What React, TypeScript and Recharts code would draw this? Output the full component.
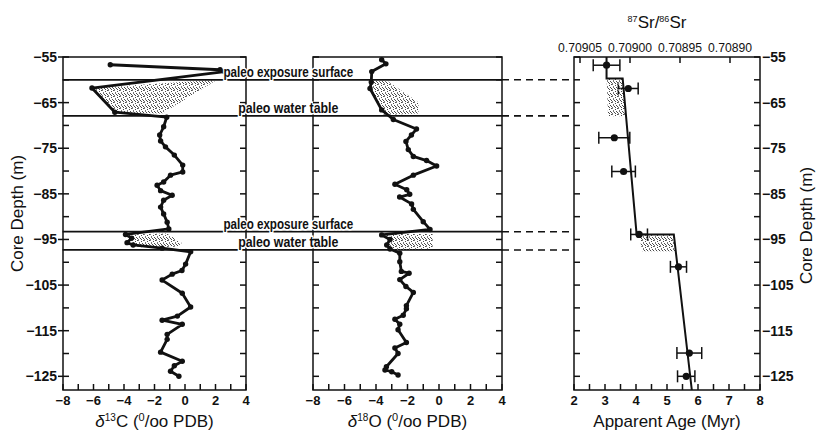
import React from "react";
import {
  ComposedChart,
  Scatter,
  XAxis,
  YAxis,
  ReferenceArea,
  ReferenceLine,
  ErrorBar,
} from "recharts";

const WIDTH = 816;
const HEIGHT = 435;
const FONT = "'Liberation Sans', Arial, Helvetica, sans-serif";
const INK = "#111";

// axes
const depthDomain: [number, number] = [-128, -55];
const depthTicks = [-55, -60, -65, -70, -75, -80, -85, -90, -95, -100, -105, -110, -115, -120, -125];
const deltaTicks = [-8, -7, -6, -5, -4, -3, -2, -1, 0, 1, 2, 3, 4];
const ageTicks = [2, 2.5, 3, 3.5, 4, 4.5, 5, 5.5, 6, 6.5, 7, 7.5, 8];
const srTicks = [0.70905, 0.709, 0.70895, 0.7089];
const srDomain: [number, number] = [0.70887, 0.709056];

// paleo horizons (depth, m)
const horizons = [
  { depth: -60, label: "paleo exposure surface" },
  { depth: -67.9, label: "paleo water table" },
  { depth: -93.3, label: "paleo exposure surface" },
  { depth: -97.3, label: "paleo water table" },
];
// horizon lines, in δ18O units of the middle panel
const horizonStart = -23.9;
const horizonEnd = 4;
const horizonDashEnd = 8.57;

// δ13C profile
const carbon13 = [
  { x: -4.9, depth: -56.7 }, { x: 2.3, depth: -57.8 }, { x: 2.6, depth: -58.2 },
  { x: -6.1, depth: -61.8 }, { x: -4.6, depth: -67.1 }, { x: -1.2, depth: -68.2 },
  { x: -1.4, depth: -70.3 }, { x: -1.66, depth: -72.1 }, { x: -1.6, depth: -73.4 },
  { x: -1.28, depth: -74.7 }, { x: -0.7, depth: -76.5 }, { x: -0.15, depth: -78.7 },
  { x: -0.15, depth: -80.2 }, { x: -0.95, depth: -80.9 }, { x: -1.4, depth: -82.4 },
  { x: -1.83, depth: -83.1 }, { x: -1.6, depth: -84.3 }, { x: -0.84, depth: -85.3 },
  { x: -1.4, depth: -86.4 }, { x: -1.6, depth: -87.9 }, { x: -1.4, depth: -89.4 },
  { x: -1.17, depth: -91.2 }, { x: -1.06, depth: -92.7 }, { x: -3.9, depth: -93.9 },
  { x: -3.5, depth: -94.7 }, { x: -3.8, depth: -95.7 }, { x: -3.4, depth: -96.2 },
  { x: -1.5, depth: -96.9 }, { x: 0.37, depth: -97.7 }, { x: 0.04, depth: -100.4 },
  { x: -0.2, depth: -101.8 }, { x: -0.84, depth: -102.6 }, { x: -1.5, depth: -103.9 },
  { x: -0.18, depth: -106.8 }, { x: 0.37, depth: -109.8 }, { x: -0.5, depth: -111.8 },
  { x: -1.5, depth: -112.7 }, { x: -0.18, depth: -113.6 }, { x: -1.17, depth: -115.8 },
  { x: -1.17, depth: -116.9 }, { x: -1.6, depth: -119.7 }, { x: -0.18, depth: -121.7 },
  { x: -0.7, depth: -122.7 }, { x: -0.95, depth: -123.9 }, { x: -0.4, depth: -125 },
];
const carbonUpperShade = [
  { x: -6.1, depth: -61.8 }, { x: 2.1, depth: -60 }, { x: -1.5, depth: -67.4 }, { x: -4.6, depth: -67.1 },
];
const carbonLowerShade = [
  { x: -3.9, depth: -93.9 }, { x: -1.2, depth: -93.7 }, { x: -0.2, depth: -95.8 }, { x: -0.5, depth: -96.6 },
  { x: -3.0, depth: -96.7 }, { x: -3.4, depth: -96.2 }, { x: -3.8, depth: -95.7 }, { x: -3.5, depth: -94.7 },
];

// δ18O profile
const oxygen18 = [
  { x: -3.64, depth: -55.6 }, { x: -3.37, depth: -56.5 }, { x: -4.27, depth: -58.2 },
  { x: -4.3, depth: -60.5 }, { x: -4.38, depth: -61.9 }, { x: -3.64, depth: -66.6 },
  { x: -2.9, depth: -68.7 }, { x: -1.43, depth: -70.8 }, { x: -1.75, depth: -72.1 },
  { x: -2.1, depth: -73.5 }, { x: -1.95, depth: -75.3 }, { x: -1.63, depth: -76.8 },
  { x: -0.79, depth: -77.7 }, { x: -0.15, depth: -78.9 }, { x: -1.63, depth: -80.9 },
  { x: -2.8, depth: -82.9 }, { x: -2.05, depth: -84.1 }, { x: -1.86, depth: -85.1 },
  { x: -2.5, depth: -85.7 }, { x: -1.74, depth: -87.2 }, { x: -1.63, depth: -88.4 },
  { x: -1.0, depth: -91.1 }, { x: -0.57, depth: -92.8 }, { x: -3.64, depth: -94.0 },
  { x: -3.11, depth: -95.0 }, { x: -3.32, depth: -96.2 }, { x: -3.11, depth: -97.1 },
  { x: -2.49, depth: -98.0 }, { x: -2.49, depth: -99.9 }, { x: -2.39, depth: -102.0 },
  { x: -1.9, depth: -102.4 }, { x: -2.49, depth: -103.8 }, { x: -2.1, depth: -105.3 },
  { x: -1.63, depth: -106.6 }, { x: -2.07, depth: -109.5 }, { x: -2.07, depth: -110.2 },
  { x: -2.27, depth: -111.6 }, { x: -2.8, depth: -112.5 }, { x: -2.49, depth: -113.6 },
  { x: -2.6, depth: -114.8 }, { x: -2.07, depth: -117.6 }, { x: -2.8, depth: -118.8 },
  { x: -2.6, depth: -120.0 }, { x: -3.34, depth: -122.9 }, { x: -3.43, depth: -123.6 },
  { x: -3.0, depth: -124.0 }, { x: -2.6, depth: -124.7 },
];
const oxygenUpperShade = [
  { x: -4.3, depth: -60.2 }, { x: -3.3, depth: -60.2 }, { x: -1.3, depth: -65.0 },
  { x: -1.3, depth: -67.4 }, { x: -3.5, depth: -67.7 }, { x: -4.38, depth: -61.9 },
];
const oxygenLowerShade = [
  { x: -3.4, depth: -93.8 }, { x: -0.4, depth: -93.8 }, { x: -0.4, depth: -97.1 },
  { x: -2.9, depth: -97.3 }, { x: -3.3, depth: -96.2 }, { x: -3.1, depth: -95.0 },
];

// Sr apparent ages (Myr) with x error
const srAges = [
  { x: 3.05, depth: -56.8, err: 0.43 },
  { x: 3.75, depth: -61.9, err: 0.32 },
  { x: 3.3, depth: -72.7, err: 0.5 },
  { x: 3.6, depth: -80.1, err: 0.38 },
  { x: 4.1, depth: -93.9, err: 0.27 },
  { x: 5.37, depth: -101.0, err: 0.26 },
  { x: 5.72, depth: -119.9, err: 0.4 },
  { x: 5.62, depth: -125.0, err: 0.28 },
];
const srTrend = [
  { x: 3.05, depth: -55 }, { x: 3.05, depth: -59.7 }, { x: 3.57, depth: -59.7 },
  { x: 4.02, depth: -93.9 }, { x: 5.22, depth: -93.9 }, { x: 5.8, depth: -128 },
];
const srUpperShade = [
  { x: 3.05, depth: -59.7 }, { x: 3.57, depth: -59.7 }, { x: 3.68, depth: -68 }, { x: 3.1, depth: -68 },
];
const srLowerShade = [
  { x: 4.1, depth: -93.9 }, { x: 5.22, depth: -93.9 }, { x: 5.27, depth: -97.6 }, { x: 4.2, depth: -97.6 },
];
// anchors the top 87Sr/86Sr axis so it gets a scale
const srAnchors = srDomain.map((sr) => ({ sr, depth: -55 }));

// stipple dot cells inside a 6x6 pattern tile
const stippleDots = [
  [0, 0], [3, 1], [5, 0], [1, 2], [4, 3], [2, 4], [0, 5], [5, 4], [3, 5], [1, 3],
];

const fmt = (v: number) => String(v).replace("-", "\u2212");
const labelledDepth = (v: number) => Math.abs(v) % 10 === 5;

const dot = (r: number) => (p: any) => <circle cx={p.cx} cy={p.cy} r={r} fill={INK} />;
const noDot = () => <g />;
const shadeLine = { fill: "url(#stipple)", stroke: "none" };
const profileLine = { stroke: INK, strokeWidth: 2.8, strokeLinejoin: "round" as const };

function tickText(x: number, y: number, text: string, anchor: "start" | "middle" | "end", size = 14) {
  return (
    <text x={x} y={y} textAnchor={anchor} fontFamily={FONT} fontSize={size} fontWeight="bold" fill={INK}>
      {text}
    </text>
  );
}

const leftTick = (labels: boolean) => (p: any) => {
  const v = p.payload.value;
  const lab = labels && labelledDepth(v);
  return (
    <g>
      <line x1={p.x} x2={p.x + 6} y1={p.y} y2={p.y} stroke={INK} strokeWidth={1.5} />
      {lab && <line x1={p.x - 5} x2={p.x} y1={p.y} y2={p.y} stroke={INK} strokeWidth={1.5} />}
      {lab && tickText(p.x - 6, p.y + 5, fmt(v), "end")}
    </g>
  );
};

const rightTick = (labels: boolean) => (p: any) => {
  const v = p.payload.value;
  return (
    <g>
      <line x1={p.x - 6} x2={p.x} y1={p.y} y2={p.y} stroke={INK} strokeWidth={1.5} />
      {labels && labelledDepth(v) && tickText(p.x + 2, p.y + 5, fmt(v), "start")}
    </g>
  );
};

const bottomTick = (show: (v: number) => boolean) => (p: any) => {
  const v = p.payload.value;
  return (
    <g>
      <line x1={p.x} x2={p.x} y1={p.y - 6} y2={p.y} stroke={INK} strokeWidth={1.5} />
      {show(v) && tickText(p.x, p.y + 15, fmt(v), "middle", 13)}
    </g>
  );
};

const topSrTick = (p: any) => (
  <g>
    <line x1={p.x} x2={p.x} y1={p.y} y2={p.y + 6} stroke={INK} strokeWidth={1.5} />
    <text
      x={p.x}
      y={p.y - 5}
      textAnchor="middle"
      fontFamily={FONT}
      fontSize={13}
      textLength={44}
      lengthAdjust="spacingAndGlyphs"
      fill={INK}
    >
      {Number(p.payload.value).toFixed(5)}
    </text>
  </g>
);

const deltaTitle = (mass: string, el: string) => (p: any) => {
  const vb = p.viewBox;
  return (
    <text x={vb.x + vb.width / 2} y={vb.y + 37} textAnchor="middle" fontFamily={FONT} fontSize={17} fill={INK}>
      <tspan fontStyle="italic">δ</tspan>
      <tspan dy={-6} fontSize={10}>{mass}</tspan>
      <tspan dy={6}>{el} (</tspan>
      <tspan dy={-6} fontSize={11}>0</tspan>
      <tspan dy={6}>/oo PDB)</tspan>
    </text>
  );
};

const plainTitle = (text: string) => (p: any) => {
  const vb = p.viewBox;
  return (
    <text x={vb.x + vb.width / 2} y={vb.y + 37} textAnchor="middle" fontFamily={FONT} fontSize={17} fill={INK}>
      {text}
    </text>
  );
};

const srTitle = (p: any) => {
  const vb = p.viewBox;
  return (
    <text x={vb.x + vb.width / 2 - 10} y={vb.y + 28} textAnchor="middle" fontFamily={FONT} fontSize={17} fill={INK}>
      <tspan dy={-6} fontSize={9}>87</tspan>
      <tspan dy={6}>Sr/</tspan>
      <tspan dy={-6} fontSize={9}>86</tspan>
      <tspan dy={6}>Sr</tspan>
    </text>
  );
};

const depthTitle = (dx: number, dy: number) => (p: any) => {
  const vb = p.viewBox;
  const cx = vb.x + dx;
  const cy = vb.y + vb.height / 2 + dy;
  return (
    <text
      x={cx}
      y={cy}
      transform={`rotate(-90 ${cx} ${cy})`}
      textAnchor="middle"
      dominantBaseline="central"
      fontFamily={FONT}
      fontSize={17}
      fill={INK}
    >
      Core Depth (m)
    </text>
  );
};

const horizonLabel = (text: string) => (p: any) => {
  const vb = p.viewBox;
  return (
    <text
      x={vb.x + vb.width / 2 + 6}
      y={vb.y - 3}
      textAnchor="middle"
      fontFamily={FONT}
      fontSize={14}
      fontWeight="bold"
      textLength={text.length * 5.9}
      lengthAdjust="spacingAndGlyphs"
      fill={INK}
      stroke="#fff"
      strokeWidth={3}
      paintOrder="stroke"
    >
      {text}
    </text>
  );
};

const layer: React.CSSProperties = { position: "absolute", left: 0, top: 0 };

function CarbonPanel() {
  return (
    <ComposedChart width={WIDTH} height={HEIGHT} margin={{ top: 57, right: 569, bottom: 0, left: 8 }}>
      <XAxis
        xAxisId="c"
        type="number"
        dataKey="x"
        domain={[-8, 4]}
        ticks={deltaTicks}
        interval={0}
        height={45}
        axisLine={false}
        tickLine={false}
        tickSize={0}
        tickMargin={0}
        tick={bottomTick((v) => v % 2 === 0)}
        label={deltaTitle("13", "C")}
      />
      <YAxis
        yAxisId="d"
        type="number"
        dataKey="depth"
        domain={depthDomain}
        ticks={depthTicks}
        interval={0}
        width={55}
        axisLine={false}
        tickLine={false}
        tickSize={0}
        tickMargin={0}
        tick={leftTick(true)}
        label={depthTitle(9, -10)}
      />
      <YAxis
        yAxisId="dr"
        orientation="right"
        type="number"
        domain={depthDomain}
        allowDataOverflow
        ticks={depthTicks}
        interval={0}
        width={1}
        axisLine={false}
        tickLine={false}
        tickSize={0}
        tickMargin={0}
        tick={rightTick(false)}
      />
      <ReferenceArea xAxisId="c" yAxisId="d" x1={-8} x2={4} y1={-128} y2={-55} fill="none" stroke={INK} strokeWidth={1.5} />
      <Scatter xAxisId="c" yAxisId="d" data={carbonUpperShade} fill="none" line={shadeLine} lineType="joint" shape={noDot} isAnimationActive={false} />
      <Scatter xAxisId="c" yAxisId="d" data={carbonLowerShade} fill="none" line={shadeLine} lineType="joint" shape={noDot} isAnimationActive={false} />
      <Scatter xAxisId="c" yAxisId="d" data={carbon13} fill={INK} line={profileLine} lineType="joint" shape={dot(2.7)} isAnimationActive={false} />
    </ComposedChart>
  );
}

function OxygenPanel() {
  return (
    <ComposedChart width={WIDTH} height={HEIGHT} margin={{ top: 57, right: 313, bottom: 0, left: 312 }}>
      <XAxis
        xAxisId="o"
        type="number"
        dataKey="x"
        domain={[-8, 4]}
        ticks={deltaTicks}
        interval={0}
        height={45}
        axisLine={false}
        tickLine={false}
        tickSize={0}
        tickMargin={0}
        tick={bottomTick((v) => v % 2 === 0)}
        label={deltaTitle("18", "O")}
      />
      <YAxis
        yAxisId="d"
        type="number"
        dataKey="depth"
        domain={depthDomain}
        ticks={depthTicks}
        interval={0}
        width={1}
        axisLine={false}
        tickLine={false}
        tickSize={0}
        tickMargin={0}
        tick={leftTick(false)}
      />
      <YAxis
        yAxisId="dr"
        orientation="right"
        type="number"
        domain={depthDomain}
        allowDataOverflow
        ticks={depthTicks}
        interval={0}
        width={1}
        axisLine={false}
        tickLine={false}
        tickSize={0}
        tickMargin={0}
        tick={rightTick(false)}
      />
      <ReferenceArea xAxisId="o" yAxisId="d" x1={-8} x2={4} y1={-128} y2={-55} fill="none" stroke={INK} strokeWidth={1.5} />
      <Scatter xAxisId="o" yAxisId="d" data={oxygenUpperShade} fill="none" line={shadeLine} lineType="joint" shape={noDot} isAnimationActive={false} />
      <Scatter xAxisId="o" yAxisId="d" data={oxygenLowerShade} fill="none" line={shadeLine} lineType="joint" shape={noDot} isAnimationActive={false} />
      <Scatter xAxisId="o" yAxisId="d" data={oxygen18} fill={INK} line={profileLine} lineType="joint" shape={dot(2.7)} isAnimationActive={false} />
      {horizons.map((h) => (
        <ReferenceLine
          key={`s${h.depth}`}
          xAxisId="o"
          yAxisId="d"
          segment={[{ x: horizonStart, y: h.depth }, { x: horizonEnd, y: h.depth }]}
          ifOverflow="visible"
          stroke={INK}
          strokeWidth={1.8}
          label={horizonLabel(h.label)}
        />
      ))}
      {horizons.map((h) => (
        <ReferenceLine
          key={`d${h.depth}`}
          xAxisId="o"
          yAxisId="d"
          segment={[{ x: horizonEnd, y: h.depth }, { x: horizonDashEnd, y: h.depth }]}
          ifOverflow="visible"
          stroke={INK}
          strokeWidth={1.6}
          strokeDasharray="7 5"
        />
      ))}
    </ComposedChart>
  );
}

function StrontiumPanel() {
  return (
    <ComposedChart width={WIDTH} height={HEIGHT} margin={{ top: 0, right: 6, bottom: 0, left: 573 }}>
      <XAxis
        xAxisId="age"
        type="number"
        dataKey="x"
        domain={[2, 8]}
        ticks={ageTicks}
        interval={0}
        height={45}
        axisLine={false}
        tickLine={false}
        tickSize={0}
        tickMargin={0}
        tick={bottomTick((v) => Number.isInteger(v))}
        label={plainTitle("Apparent Age (Myr)")}
      />
      <XAxis
        xAxisId="sr"
        orientation="top"
        type="number"
        dataKey="sr"
        domain={srDomain}
        reversed
        ticks={srTicks}
        interval={0}
        height={57}
        axisLine={false}
        tickLine={false}
        tickSize={0}
        tickMargin={0}
        tick={topSrTick}
        label={srTitle}
      />
      <YAxis
        yAxisId="d"
        type="number"
        dataKey="depth"
        domain={depthDomain}
        ticks={depthTicks}
        interval={0}
        width={1}
        axisLine={false}
        tickLine={false}
        tickSize={0}
        tickMargin={0}
        tick={leftTick(false)}
      />
      <YAxis
        yAxisId="dr"
        orientation="right"
        type="number"
        domain={depthDomain}
        allowDataOverflow
        ticks={depthTicks}
        interval={0}
        width={50}
        axisLine={false}
        tickLine={false}
        tickSize={0}
        tickMargin={0}
        tick={rightTick(true)}
        label={depthTitle(46, 2)}
      />
      <ReferenceArea xAxisId="age" yAxisId="d" x1={2} x2={8} y1={-128} y2={-55} fill="none" stroke={INK} strokeWidth={1.5} />
      <Scatter xAxisId="sr" yAxisId="d" data={srAnchors} fill="none" shape={noDot} isAnimationActive={false} />
      <Scatter xAxisId="age" yAxisId="d" data={srUpperShade} fill="none" line={shadeLine} lineType="joint" shape={noDot} isAnimationActive={false} />
      <Scatter xAxisId="age" yAxisId="d" data={srLowerShade} fill="none" line={shadeLine} lineType="joint" shape={noDot} isAnimationActive={false} />
      <Scatter xAxisId="age" yAxisId="d" data={srTrend} fill={INK} line={{ stroke: INK, strokeWidth: 2 }} lineType="joint" shape={noDot} isAnimationActive={false} />
      <Scatter xAxisId="age" yAxisId="d" data={srAges} fill={INK} shape={dot(3.6)} isAnimationActive={false}>
        <ErrorBar dataKey="err" direction="x" width={6} stroke={INK} strokeWidth={1.5} />
      </Scatter>
    </ComposedChart>
  );
}

export default function App() {
  return (
    <div style={{ position: "absolute", left: 0, top: 0, width: WIDTH, height: HEIGHT, background: "#fff" }}>
      <svg width={0} height={0} style={{ position: "absolute" }}>
        <defs>
          <pattern id="stipple" width={6} height={6} patternUnits="userSpaceOnUse">
            {stippleDots.map(([dx, dy], i) => (
              <rect key={i} x={dx} y={dy} width={1} height={1} fill={i % 3 === 0 ? "#777" : "#4a4a4a"} />
            ))}
          </pattern>
        </defs>
      </svg>
      <div style={layer}>
        <CarbonPanel />
      </div>
      <div style={layer}>
        <StrontiumPanel />
      </div>
      <div style={layer}>
        <OxygenPanel />
      </div>
    </div>
  );
}
